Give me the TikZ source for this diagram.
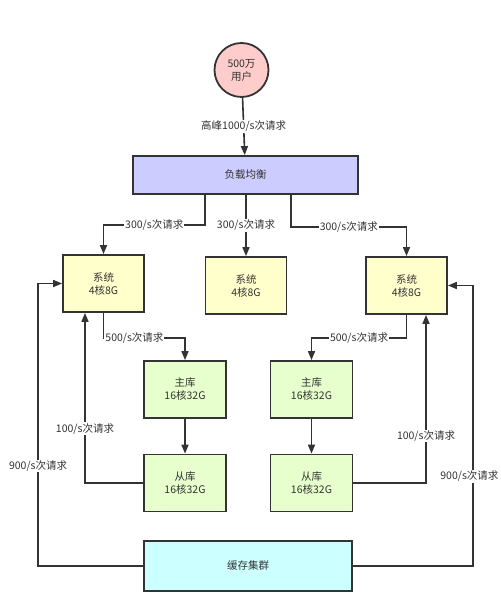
\documentclass[tikz,border=0pt]{standalone}
\usepackage{fontspec}
\setmainfont{Noto Sans CJK SC}
\usetikzlibrary{arrows.meta}
\definecolor{linec}{HTML}{333333}
\definecolor{txtc}{HTML}{333333}
\definecolor{userc}{HTML}{FFCCCC}
\definecolor{lbc}{HTML}{CCCCFF}
\definecolor{sysc}{HTML}{FFFFCC}
\definecolor{dbc}{HTML}{E6FFCC}
\definecolor{cachec}{HTML}{CCFFFF}

\begin{document}
\begin{tikzpicture}[x=1pt,y=-1pt,->,>={Triangle[length=9pt,width=7pt]},
                    line width=1.6pt,draw=linec]
  \tikzstyle{box}=[draw=linec,line width=1.8pt,inner sep=0pt,align=center,
                   text=txtc,font=\fontsize{10.5}{13}\selectfont]
  \tikzstyle{userbox}=[box,circle,fill=userc,minimum size=54pt]
  \tikzstyle{lbbox}=[box,fill=lbc,minimum width=225pt,minimum height=38pt]
  \tikzstyle{sysbox}=[box,fill=sysc,minimum width=81pt,minimum height=57pt]
  \tikzstyle{dbbox}=[box,fill=dbc,minimum width=82pt,minimum height=57pt]
  \tikzstyle{cachebox}=[box,fill=cachec,minimum width=208pt,minimum height=50pt]
  \tikzstyle{lbl}=[fill=white,inner sep=1pt,text=txtc,
                   font=\fontsize{10.5}{13}\selectfont]

  \fill[white] (0,0) rectangle (500,593);
  \useasboundingbox (0,0) rectangle (500,593);

  \node[userbox]  (user)  at (241.5,70)   {500万\\用户};
  \node[lbbox]    (lb)    at (245.5,175)  {负载均衡};
  \node[sysbox]   (sys1)  at (103.5,283.5){系统\\4核8G};
  \node[sysbox]   (sys2)  at (246,285.5)  {系统\\4核8G};
  \node[sysbox]   (sys3)  at (406.5,285.5){系统\\4核8G};
  \node[dbbox]    (ml)    at (185,389.5)  {主库\\16核32G};
  \node[dbbox]    (sl)    at (185,483)    {从库\\16核32G};
  \node[dbbox]    (mr)    at (311.5,389.5){主库\\16核32G};
  \node[dbbox]    (sr)    at (311.5,483)  {从库\\16核32G};
  \node[cachebox] (cache) at (248,566)    {缓存集群};

  \draw (user) -- node[lbl] {高峰1000/s次请求} (lb);
  \draw ([xshift=-40.5pt]lb.south) -- ++(0,30)
        -| node[lbl,pos=0.25] {300/s次请求} (sys1.north);
  \draw (lb.south -| sys2.north) -- node[lbl] {300/s次请求} (sys2.north);
  \draw ([xshift=45.5pt]lb.south) -- ++(0,32)
        -| node[lbl,pos=0.25] {300/s次请求} (sys3.north);

  \draw (sys1.south) -- ++(0,25) -| node[lbl,pos=0.19] {500/s次请求} (ml.north);
  \draw (sys3.south) -- ++(0,23) -| node[lbl,pos=0.25] {500/s次请求} (mr.north);
  \draw (ml) -- (sl);
  \draw (mr) -- (sr);

  \draw (sl.west) -| node[lbl,pos=0.66] {100/s次请求} ([xshift=-18.5pt]sys1.south);
  \draw (sr.east) -| node[lbl,pos=0.64] {100/s次请求} ([xshift=19.5pt]sys3.south);

  \draw (cache.west) -- ++(-105,0)
        |- node[lbl,pos=0.177] {900/s次请求} (sys1.west);
  \draw (cache.east) -- ++(120,0)
        |- node[lbl,pos=0.16,xshift=-3.5pt] {900/s次请求} (sys3.east);
\end{tikzpicture}
\end{document}
